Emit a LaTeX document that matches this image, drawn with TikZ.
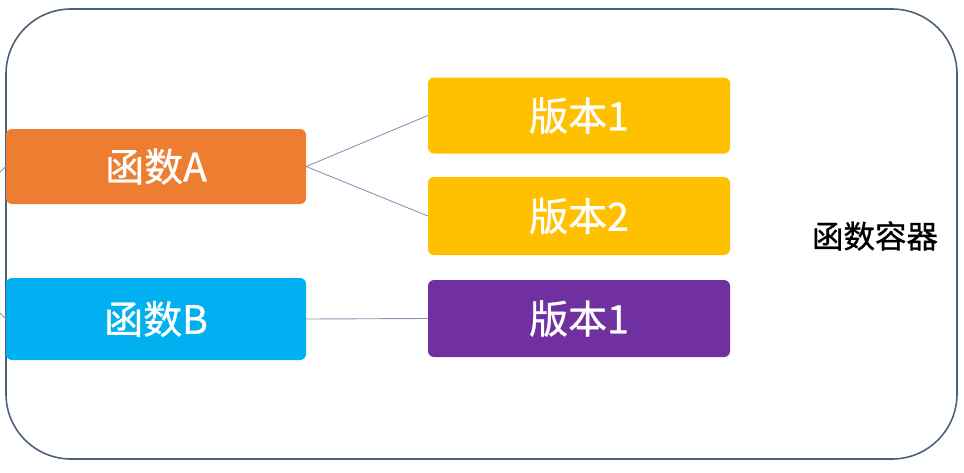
\documentclass[tikz,border=0pt]{standalone}
\usepackage{fontspec}
\setmainfont{Noto Sans CJK SC}[FakeBold=0.9]
\definecolor{cOrange}{HTML}{ED7D31}
\definecolor{cBlue}{HTML}{00B0F0}
\definecolor{cYellow}{HTML}{FFC000}
\definecolor{cPurple}{HTML}{7030A0}
\definecolor{cFrame}{HTML}{4D6278}
\definecolor{cLink}{HTML}{8497B8}
\tikzset{
  box/.style={rounded corners=6pt, minimum width=300pt, minimum height=76pt, inner sep=0pt,
    text=white, font=\fontsize{39}{42}\selectfont},
  link/.style={draw=cLink, line width=0.9pt},
}
\begin{document}
\begin{tikzpicture}[x=1pt,y=-1pt]
\useasboundingbox (0,0) rectangle (964,472);
\draw[cFrame, line width=1.6pt, rounded corners=65pt] (6,9) rectangle (957,459);
\node[box, fill=cOrange, minimum height=75pt] (fa) at (156,166.5) {函数A};
\node[box, fill=cBlue, minimum height=82pt] (fb) at (156,319) {函数B};
\node[box, fill=cYellow, minimum width=302pt, minimum height=76pt] (va1) at (579,115.5) {版本1};
\node[box, fill=cYellow, minimum width=302pt, minimum height=78pt] (va2) at (579,216) {版本2};
\node[box, fill=cPurple, minimum width=302pt, minimum height=77pt] (vb1) at (579,318.5) {版本1};
\node[font=\fontsize{31.5}{34}\selectfont, text=black] (ct) at (875,236) {函数容器};
\coordinate (sa) at (0,172);
\coordinate (sb) at (0,313);
\draw[link] (fa.east) -- (va1.west);
\draw[link] (fa.east) -- (va2.west);
\draw[link] (fb.east) -- (vb1.west);
\draw[link] (sa) -- (fa.west);
\draw[link] (sb) -- (fb.west);
\end{tikzpicture}
\end{document}
